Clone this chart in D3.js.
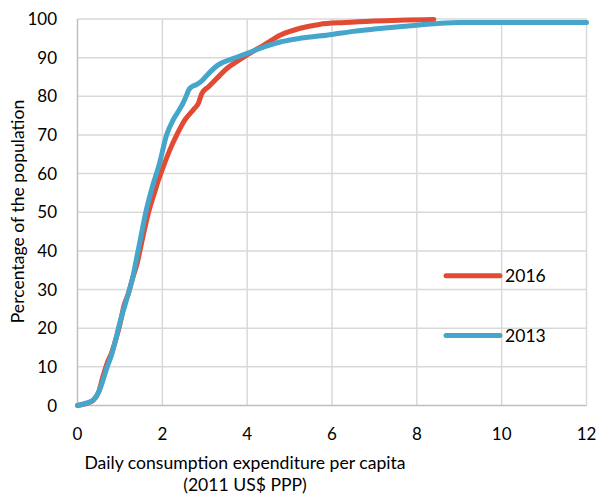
<!DOCTYPE html>
<html><head><meta charset="utf-8">
<script src="https://cdn.jsdelivr.net/npm/d3@7"></script>
<style>body{margin:0;background:#fff}svg{display:block}text{font-family:Lato,"Open Sans",sans-serif;fill:#000}</style>
</head><body><svg id="c" width="598" height="494"></svg>
<script>
const xTicks = [0, 2, 4, 6, 8, 10, 12];
const yTicks = [0, 10, 20, 30, 40, 50, 60, 70, 80, 90, 100];
const seriesNames = ["2016", "2013"];
const x2016 = [0, 0.2, 0.37, 0.5, 0.6, 0.7, 0.8, 0.9, 1.0, 1.1, 1.2, 1.3, 1.4, 1.5, 1.6, 1.7, 1.8, 1.9, 2.03, 2.18, 2.34, 2.54, 2.73, 2.85, 2.93, 3.09, 3.29, 3.52, 3.76, 4.0, 4.4, 4.8, 5.25, 5.7, 6.3, 7.0, 8.4];
const y2016 = [0, 0.5, 1.3, 3.5, 7.5, 11, 13.5, 17, 21, 26, 29, 33, 36.5, 41.5, 46.5, 51, 54.5, 58, 62, 66.2, 70, 74, 76.5, 78.2, 80.7, 82.5, 84.7, 87.2, 89, 90.7, 93.3, 95.9, 97.6, 98.6, 99.1, 99.5, 99.9];
const x2013 = [0, 0.2, 0.37, 0.5, 0.6, 0.7, 0.8, 0.9, 1.0, 1.08, 1.2, 1.3, 1.4, 1.5, 1.6, 1.75, 1.93, 2.1, 2.26, 2.4, 2.5, 2.58, 2.62, 2.7, 2.8, 2.93, 3.1, 3.3, 3.6, 4.0, 4.4, 4.8, 5.25, 6.0, 6.5, 7.0, 8.0, 9.0, 12];
const y2013 = [0, 0.6, 1.4, 3.5, 6.5, 10, 13, 17, 21.5, 24.5, 29, 33, 38.5, 44, 49.5, 56, 62.5, 70, 74, 76.5, 78.5, 80.5, 81.6, 82.5, 83, 84, 86, 88, 89.5, 91.1, 92.8, 94.1, 95, 96, 96.8, 97.4, 98.4, 99.1, 99.1];

const svg = d3.select("#c");
const L = 77.5, R = 586.5, T = 19, B = 405.5;
const x = d3.scaleLinear().domain([0, 12]).range([L, R]);
const y = d3.scaleLinear().domain([0, 100]).range([B, T]);

const g = svg.append("g");
g.selectAll(".vg").data(xTicks.slice(1)).join("line")
  .attr("x1", d => x(d)).attr("x2", d => x(d)).attr("y1", T).attr("y2", B)
  .attr("stroke", "#d9d9d9").attr("stroke-width", 1.5);
g.selectAll(".hg").data(yTicks.slice(1)).join("line")
  .attr("x1", L).attr("x2", R).attr("y1", d => y(d)).attr("y2", d => y(d))
  .attr("stroke", "#d9d9d9").attr("stroke-width", 1.5);
svg.append("line").attr("x1", L).attr("x2", L).attr("y1", T).attr("y2", B).attr("stroke", "#bfbfbf").attr("stroke-width", 1.5);
svg.append("line").attr("x1", L).attr("x2", R).attr("y1", B).attr("y2", B).attr("stroke", "#bfbfbf").attr("stroke-width", 1.5);

svg.selectAll(".xt").data(xTicks).join("text")
  .attr("x", d => x(d)).attr("y", 440).attr("text-anchor", "middle")
  .attr("font-size", 17).text(d => d);
svg.selectAll(".yt").data(yTicks).join("text")
  .attr("x", 57).attr("y", d => y(d)).attr("dy", "0.36em").attr("text-anchor", "end")
  .attr("font-size", 17).text(d => d);

svg.append("text").attr("x", 245).attr("y", 469).attr("text-anchor", "middle").attr("font-size", 17.6)
  .text("Daily consumption expenditure per capita");
svg.append("text").attr("x", 245).attr("y", 491).attr("text-anchor", "middle").attr("font-size", 17.6)
  .text("(2011 US$ PPP)");
svg.append("text").attr("transform", "translate(24,211.5) rotate(-90)").attr("text-anchor", "middle").attr("font-size", 17.6)
  .text("Percentage of the population");

const line = d3.line().x(d => x(d[0])).y(d => y(d[1])).curve(d3.curveMonotoneX);
const colors = {"2016": "#e24a33", "2013": "#46a5cb"};
const data = {"2016": x2016.map((v, i) => [v, y2016[i]]), "2013": x2013.map((v, i) => [v, y2013[i]])};
["2016", "2013"].forEach(k => {
  svg.append("path").attr("d", line(data[k])).attr("fill", "none")
    .attr("stroke", colors[k]).attr("stroke-width", 5).attr("stroke-linejoin", "round").attr("stroke-linecap", "round");
});

const legY = [275.7, 335.5];
seriesNames.forEach((k, i) => {
  svg.append("line").attr("x1", 446).attr("x2", 500).attr("y1", legY[i]).attr("y2", legY[i])
    .attr("stroke", colors[k]).attr("stroke-width", 5).attr("stroke-linecap", "round");
  svg.append("text").attr("x", 505).attr("y", legY[i]).attr("dy", "0.36em").attr("font-size", 17.6).text(k);
});
</script></body></html>
